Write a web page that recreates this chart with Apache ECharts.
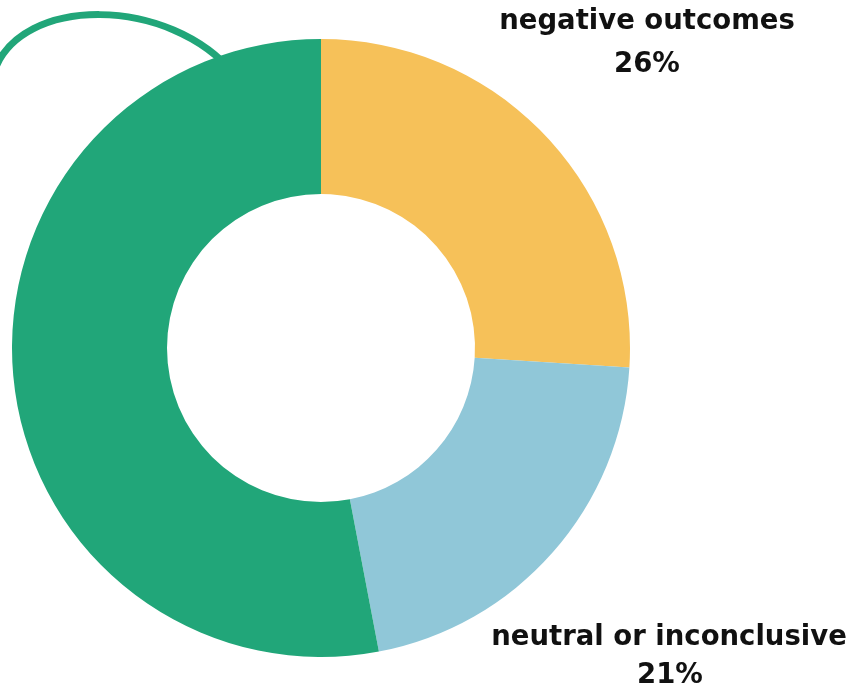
<!DOCTYPE html>
<html><head><meta charset="utf-8">
<script src="https://cdn.jsdelivr.net/npm/echarts@6/dist/echarts.min.js"></script>
<style>html,body{margin:0;padding:0;background:#fff}#c{width:854px;height:691px}</style>
</head><body><div id="c"></div>
<script>
const categories = ['negative outcomes', 'neutral or inconclusive', 'positive outcomes'];
const values = [26, 21, 53];
const colors = ['#F6C159', '#90C7D8', '#21A679'];

const chart = echarts.init(document.getElementById('c'), null, {renderer: 'canvas'});
const font = '"DejaVu Sans", sans-serif';
const labelStyle = {fontFamily: font, fontWeight: 'bold', fontSize: 27.5, fill: '#111', textAlign: 'center', textVerticalAlign: 'middle'};
chart.setOption({
  animation: false,
  backgroundColor: '#fff',
  graphic: [
    {type: 'bezierCurve', z: 0, shape: {x1: -6, y1: 72, cpx1: 20, cpy1: -5, cpx2: 170, cpy2: -5, x2: 235, y2: 75},
      style: {stroke: colors[2], lineWidth: 7, fill: null}},
    {type: 'text', position: [647, 22], style: Object.assign({text: categories[0]}, labelStyle)},
    {type: 'text', position: [647, 65], style: Object.assign({text: values[0] + '%'}, labelStyle)},
    {type: 'text', position: [669, 638], style: Object.assign({text: categories[1]}, labelStyle)},
    {type: 'text', position: [670, 676], style: Object.assign({text: values[1] + '%'}, labelStyle)}
  ],
  series: [{
    type: 'pie',
    z: 5,
    center: [321, 348],
    radius: [154, 309],
    startAngle: 90,
    clockwise: true,
    label: {show: false},
    labelLine: {show: false},
    emphasis: {disabled: true},
    data: categories.map((c, i) => ({name: c, value: values[i], itemStyle: {color: colors[i]}}))
  }]
});
</script></body></html>
